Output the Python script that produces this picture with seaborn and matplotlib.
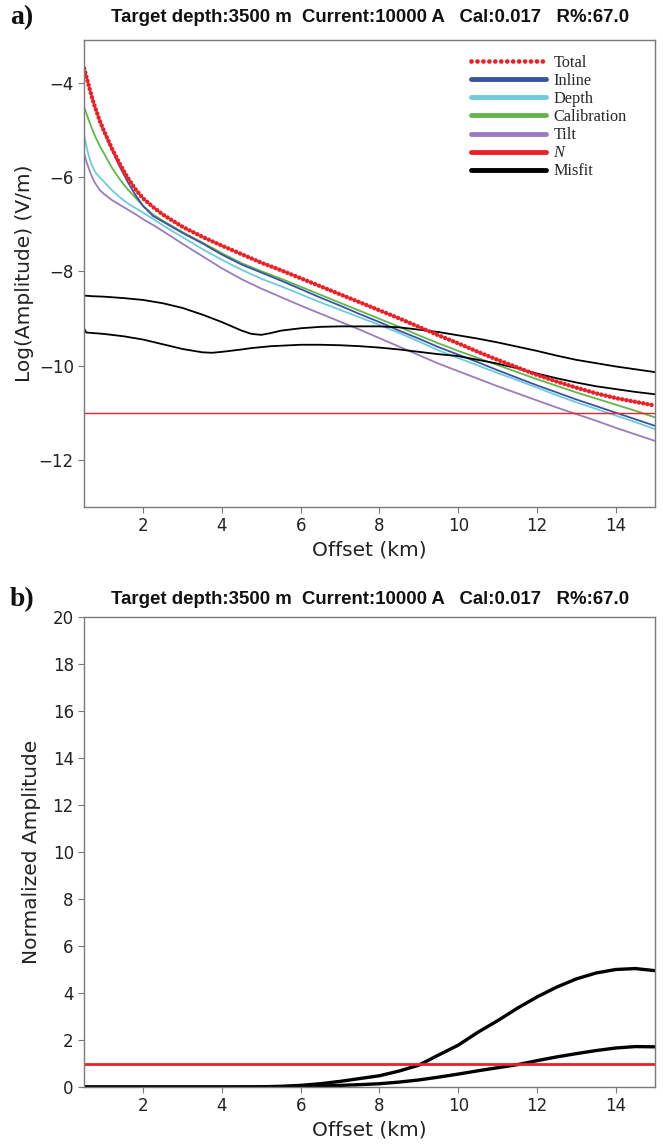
import numpy as np
import pandas as pd
import matplotlib
matplotlib.use("Agg")
import matplotlib.pyplot as plt
from matplotlib.lines import Line2D
import seaborn as sns

# ---------------- data ----------------
offset = [0.5, 0.55, 0.6, 0.65, 0.7, 0.75, 0.8, 0.9, 1.0, 1.2, 1.4, 1.6, 1.8,
          2.0, 2.25, 2.5, 3.0, 3.5, 4.0, 4.5, 5.0, 5.5, 6.0, 6.5, 7.0, 7.5,
          8.0, 8.5, 9.0, 9.5, 10.0, 10.5, 11.0, 11.5, 12.0, 12.5, 13.0, 13.5,
          14.0, 14.5, 15.0]

total = [-3.70, -3.86, -4.01, -4.17, -4.32, -4.46, -4.58, -4.82, -5.02, -5.39,
         -5.72, -6.01, -6.26, -6.46, -6.64, -6.80, -7.06, -7.27, -7.46, -7.64,
         -7.82, -7.98, -8.15, -8.32, -8.49, -8.66, -8.83, -9.00, -9.18, -9.36,
         -9.53, -9.71, -9.88, -10.04, -10.20, -10.34, -10.47, -10.59, -10.69,
         -10.77, -10.85]

inline = [-3.70, -3.86, -4.01, -4.17, -4.32, -4.46, -4.58, -4.82, -5.04, -5.42,
          -5.78, -6.10, -6.38, -6.62, -6.83, -6.95, -7.19, -7.41, -7.65, -7.86,
          -8.03, -8.20, -8.38, -8.56, -8.73, -8.91, -9.08, -9.26, -9.43, -9.61,
          -9.77, -9.93, -10.10, -10.26, -10.42, -10.57, -10.72, -10.86, -11.00,
          -11.14, -11.28]

depth = [-5.12, -5.33, -5.50, -5.65, -5.76, -5.85, -5.92, -6.02, -6.10, -6.28,
         -6.43, -6.56, -6.66, -6.76, -6.89, -7.03, -7.28, -7.53, -7.76, -7.97,
         -8.16, -8.32, -8.49, -8.66, -8.82, -8.98, -9.14, -9.31, -9.49, -9.68,
         -9.84, -10.00, -10.16, -10.31, -10.47, -10.63, -10.78, -10.92, -11.06,
         -11.20, -11.35]

calibration = [-4.52, -4.64, -4.76, -4.87, -4.98, -5.08, -5.18, -5.35, -5.50,
               -5.80, -6.05, -6.26, -6.44, -6.62, -6.80, -6.93, -7.17, -7.39,
               -7.62, -7.83, -8.00, -8.16, -8.33, -8.50, -8.67, -8.84, -9.01,
               -9.18, -9.36, -9.53, -9.69, -9.84, -9.99, -10.14, -10.29, -10.43,
               -10.57, -10.70, -10.83, -10.96, -11.10]

tilt = [-5.51, -5.66, -5.78, -5.90, -6.00, -6.09, -6.16, -6.28, -6.36, -6.49,
        -6.59, -6.69, -6.79, -6.90, -7.02, -7.15, -7.42, -7.68, -7.94, -8.17,
        -8.37, -8.55, -8.73, -8.90, -9.07, -9.24, -9.42, -9.60, -9.78, -9.96,
        -10.12, -10.28, -10.44, -10.59, -10.74, -10.89, -11.03, -11.17, -11.32,
        -11.46, -11.60]

noise_level = -11.0

misfit_offset = [0.5, 0.55, 0.7, 1.0, 1.5, 2.0, 2.5, 3.0, 3.5, 3.75, 4.0, 4.5,
                 4.75, 5.0, 5.25, 5.5, 6.0, 6.5, 7.0, 7.5, 8.0, 8.5, 9.0, 9.5,
                 10.0, 10.5, 11.0, 11.5, 12.0, 12.5, 13.0, 13.5, 14.0, 14.5, 15.0]
misfit_upper = [-8.52, -8.52, -8.53, -8.54, -8.57, -8.61, -8.68, -8.78, -8.92,
                -9.00, -9.08, -9.26, -9.33, -9.35, -9.31, -9.26, -9.21, -9.18,
                -9.17, -9.17, -9.17, -9.19, -9.24, -9.29, -9.36, -9.43, -9.51,
                -9.60, -9.69, -9.79, -9.88, -9.95, -10.02, -10.08, -10.14]
misfit_lower = [-9.22, -9.30, -9.31, -9.33, -9.38, -9.45, -9.55, -9.65, -9.72,
                -9.73, -9.71, -9.66, -9.63, -9.61, -9.59, -9.58, -9.56, -9.56,
                -9.57, -9.59, -9.62, -9.66, -9.71, -9.76, -9.80, -9.88, -9.96,
                -10.06, -10.17, -10.27, -10.36, -10.44, -10.50, -10.56, -10.61]

norm_offset = [0.5, 2.0, 4.0, 4.5, 5.0, 5.5, 6.0, 6.5, 7.0, 7.5, 8.0, 8.5, 9.0,
               9.5, 10.0, 10.5, 11.0, 11.5, 12.0, 12.5, 13.0, 13.5, 14.0, 14.5, 15.0]
norm_upper = [0.0, 0.0, 0.0, 0.005, 0.01, 0.03, 0.07, 0.14, 0.24, 0.36, 0.48,
              0.68, 0.93, 1.36, 1.78, 2.33, 2.82, 3.35, 3.83, 4.25, 4.60, 4.85,
              5.00, 5.04, 4.95]
norm_lower = [0.0, 0.0, 0.0, 0.0, 0.0, 0.01, 0.02, 0.04, 0.07, 0.10, 0.14, 0.21,
              0.30, 0.42, 0.55, 0.69, 0.82, 0.95, 1.12, 1.28, 1.42, 1.55, 1.66,
              1.72, 1.71]
norm_threshold = 1.0

title_text = "Target depth:3500 m  Current:10000 A   Cal:0.017   R%:67.0"
legend_labels = ["Total", "Inline", "Depth", "Calibration", "Tilt", "N", "Misfit"]

# ---------------- style ----------------
sns.set_style("ticks")
plt.rcParams["font.family"] = ["DejaVu Sans"]
edge = "#7a7a7a"
plt.rcParams.update({
    "axes.edgecolor": edge,
    "axes.linewidth": 1.0,
    "xtick.color": edge,
    "ytick.color": edge,
    "xtick.labelcolor": "#222222",
    "ytick.labelcolor": "#222222",
    "xtick.major.size": 4,
    "ytick.major.size": 4,
    "xtick.labelsize": 12,
    "ytick.labelsize": 12,
})

c_total = "#ee2027"
c_inline = "#3a53a4"
c_depth = "#6dcbdc"
c_cal = "#5eb849"
c_tilt = "#9a7cbf"
c_n = "#ee2027"

fig = plt.figure(figsize=(6.63, 11.47), dpi=100)
ax1 = fig.add_axes([0.127, 0.558, 0.861, 0.407])
ax2 = fig.add_axes([0.127, 0.0523, 0.861, 0.4098])

df = pd.DataFrame({"offset": offset, "total": total, "inline": inline,
                   "depth": depth, "calibration": calibration, "tilt": tilt})
dfm = pd.DataFrame({"offset": misfit_offset, "upper": misfit_upper,
                    "lower": misfit_lower})
dfn = pd.DataFrame({"offset": norm_offset, "upper": norm_upper,
                    "lower": norm_lower})

# ---------------- panel a ----------------
lw = 1.3
sns.lineplot(data=df, x="offset", y="tilt", ax=ax1, color=c_tilt, lw=lw)
sns.lineplot(data=df, x="offset", y="depth", ax=ax1, color=c_depth, lw=lw)
sns.lineplot(data=df, x="offset", y="calibration", ax=ax1, color=c_cal, lw=lw)
sns.lineplot(data=df, x="offset", y="inline", ax=ax1, color=c_inline, lw=lw)
sns.lineplot(data=dfm, x="offset", y="upper", ax=ax1, color="black", lw=lw)
sns.lineplot(data=dfm, x="offset", y="lower", ax=ax1, color="black", lw=lw)
ax1.axhline(noise_level, color=c_n, lw=1.0)
sns.lineplot(data=df, x="offset", y="total", ax=ax1, color=c_total, lw=3.2,
             linestyle=(0, (0.01, 0.95)), dash_capstyle="round")

ax1.set_xlim(0.5, 15)
ax1.set_ylim(-13, -3.1)
ax1.set_xticks([2, 4, 6, 8, 10, 12, 14])
ax1.set_yticks([-12, -10, -8, -6, -4])
ax1.set_xlabel("Offset (km)", fontsize=14.5, color="#222222", labelpad=4)
ax1.set_ylabel("Log(Amplitude) (V/m)", fontsize=14.5, color="#222222", labelpad=3)

handles = [
    Line2D([], [], color=c_total, lw=3.4, linestyle=(0, (0.01, 1.25)),
           dash_capstyle="round"),
    Line2D([], [], color=c_inline, lw=3.5, solid_capstyle="round"),
    Line2D([], [], color=c_depth, lw=3.5, solid_capstyle="round"),
    Line2D([], [], color=c_cal, lw=3.5, solid_capstyle="round"),
    Line2D([], [], color=c_tilt, lw=3.5, solid_capstyle="round"),
    Line2D([], [], color=c_n, lw=3.5, solid_capstyle="round"),
    Line2D([], [], color="black", lw=3.5, solid_capstyle="round"),
]
leg = ax1.legend(handles, legend_labels, loc="upper right", frameon=False,
                 prop={"family": "Liberation Serif", "size": 11.7},
                 handlelength=4.6, handletextpad=0.45, labelspacing=0.13,
                 borderaxespad=0.3, bbox_to_anchor=(0.970, 0.993))
leg.get_texts()[5].set_fontstyle("italic")

# ---------------- panel b ----------------
sns.lineplot(data=dfn, x="offset", y="upper", ax=ax2, color="black", lw=2.4)
sns.lineplot(data=dfn, x="offset", y="lower", ax=ax2, color="black", lw=2.4)
ax2.axhline(norm_threshold, color=c_n, lw=2.0)
ax2.set_xlim(0.5, 15)
ax2.set_ylim(0, 20)
ax2.set_xticks([2, 4, 6, 8, 10, 12, 14])
ax2.set_yticks(range(0, 21, 2))
ax2.set_xlabel("Offset (km)", fontsize=14.5, color="#222222", labelpad=4)
ax2.set_ylabel("Normalized Amplitude", fontsize=14.5, color="#222222", labelpad=8)

# ---------------- titles and panel tags ----------------
for ypix, tag in [(18, "a)"), (600, "b)")]:
    fig.text(370 / 663, 1 - ypix / 1147, title_text, ha="center", va="center",
             fontsize=13.4, fontweight="bold", family="Liberation Sans",
             color="#111111")
    fig.text(10 / 663, 1 - ypix / 1147, tag, ha="left", va="center",
             fontsize=20, fontweight="bold", family="Liberation Serif",
             color="#111111")

fig.savefig("out.png", dpi=100)
